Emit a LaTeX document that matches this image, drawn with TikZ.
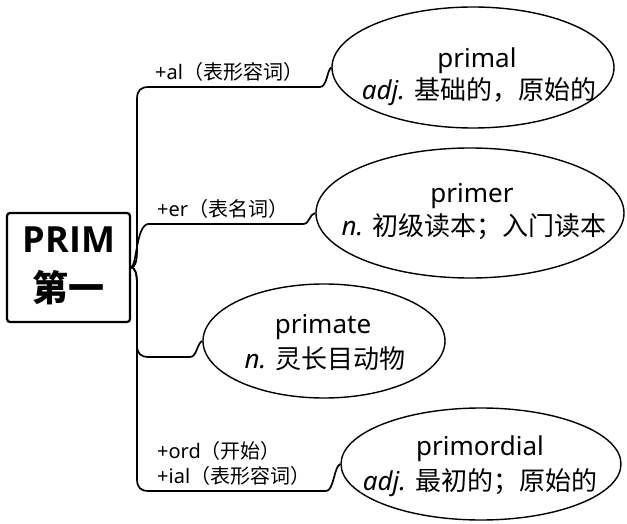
\documentclass[tikz,border=0pt]{standalone}
\usepackage{fontspec}
\setmainfont{Noto Sans}
\newfontfamily\cjk{Noto Sans CJK SC}
\newfontfamily\rootfont{Open Sans}
\usetikzlibrary{shapes.geometric}
\begin{document}
\begin{tikzpicture}[x=1pt,y=-1pt,
  conn/.style={line width=1.7pt},
  bubble/.style={draw, ellipse, line width=1.4pt, inner sep=0pt},
  word/.style={anchor=base, inner sep=0pt, font=\fontsize{26}{30}\selectfont},
  lbl/.style={anchor=base west, inner sep=0pt, font=\fontsize{20}{24}\selectfont},
  roottxt/.style={anchor=base, inner sep=0pt, font=\fontsize{36}{40}\selectfont\bfseries}]
\fill[white] (0,0) rectangle (627,524);
\useasboundingbox (0,0) rectangle (627,524);

% root
\node[draw, line width=2.2pt, rounded corners=3pt, minimum width=123pt, minimum height=109pt, inner sep=0pt] (root) at (68.5,267.5) {};
\node[roottxt] (rt1) at (69,252) {\rootfont PRIM};
\node[roottxt] (rt2) at (68,301) {\cjk 第一};

% ellipses
\node[bubble, minimum width=282pt, minimum height=121pt] (e1) at (473,67.5) {};
\node[bubble, minimum width=308pt, minimum height=130pt] (e2) at (470,213) {};
\node[bubble, minimum width=242pt, minimum height=114pt] (e3) at (324,341) {};
\node[bubble, minimum width=280pt, minimum height=112pt] (e4) at (481,464) {};

\node[word] (w1a) at (477,68) {primal};
\node[word] (w1b) at (479,100) {\textit{adj.} {\cjk 基础的，原始的}};
\node[word] (w2a) at (472,203) {primer};
\node[word] (w2b) at (474,235) {\textit{n.} {\cjk 初级读本；入门读本}};
\node[word] (w3a) at (323,333) {primate};
\node[word] (w3b) at (325,368) {\textit{n.} {\cjk 灵长目动物}};
\node[word] (w4a) at (480,455) {primordial};
\node[word] (w4b) at (480,490) {\textit{adj.} {\cjk 最初的；原始的}};

% connectors
\draw[conn] (root.east) .. controls (135,267.5) and (137,262) .. (137,250) -- (137,99)
  .. controls (137,90) and (141,87) .. (149,87) -- (320,87)
  .. controls (327,87) and (327,70) .. (e1.west);
\draw[conn] (root.east) .. controls (137,265) and (136,226) .. (148,224) -- (303,224)
  .. controls (310,224) and (309,214) .. (e2.west);
\draw[conn] (root.east) .. controls (135,267.5) and (137,273) .. (137,285) -- (137,345)
  .. controls (137,354) and (141,357) .. (149,357) -- (190,357)
  .. controls (197,357) and (197,343) .. (e3.west);
\draw[conn] (root.east) .. controls (135,267.5) and (137,273) .. (137,285) -- (137,479)
  .. controls (137,488) and (141,491) .. (149,491) -- (326,491)
  .. controls (334,491) and (334,466) .. (e4.west);

% labels
\node[lbl] (l1) at (155,80) {+al{\cjk （表形容词）}};
\node[lbl] (l2) at (157,217) {+er{\cjk （表名词）}};
\node[lbl] (l4a) at (157,458) {+ord{\cjk （开始）}};
\node[lbl] (l4b) at (157,483) {+ial{\cjk （表形容词）}};
\end{tikzpicture}
\end{document}
